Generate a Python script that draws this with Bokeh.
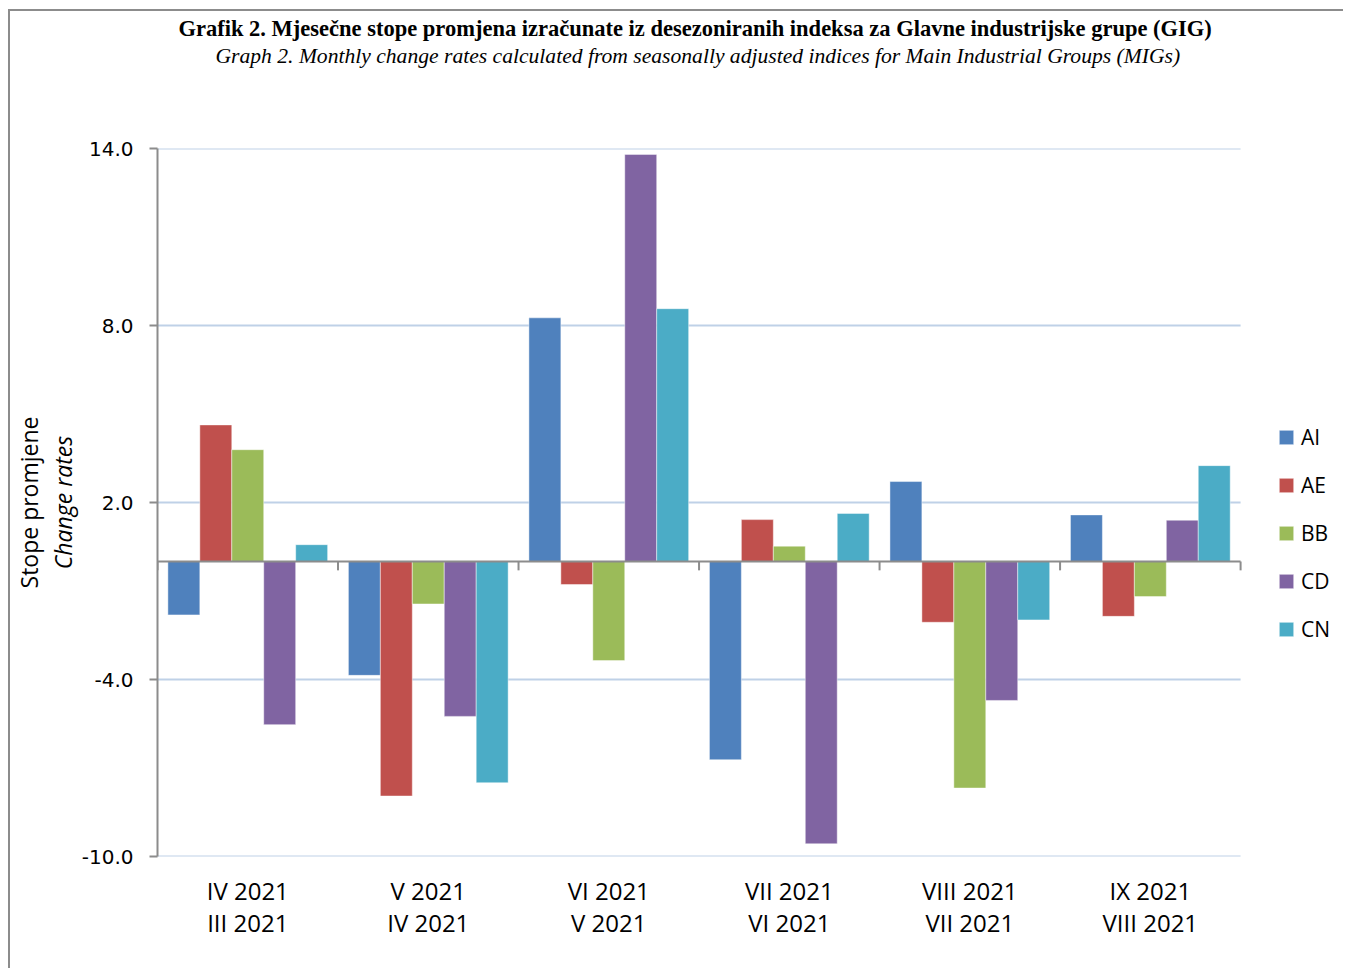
from bokeh.plotting import figure
from bokeh.models import (Range1d, FixedTicker, Title, Legend, LegendItem,
                          ColumnDataSource, PrintfTickFormatter)
from bokeh.embed import file_html
from bokeh.resources import INLINE

# ---- data ----
categories = ["IV 2021\nIII 2021", "V 2021\nIV 2021", "VI 2021\nV 2021",
              "VII 2021\nVI 2021", "VIII 2021\nVII 2021", "IX 2021\nVIII 2021"]
series_names = ["AI", "AE", "BB", "CD", "CN"]
AI = [-1.81, -3.86, 8.26, -6.72, 2.71, 1.58]
AE = [4.63, -7.95, -0.78, 1.42, -2.06, -1.86]
BB = [3.79, -1.44, -3.36, 0.52, -7.68, -1.19]
CD = [-5.53, -5.25, 13.80, -9.57, -4.71, 1.40]
CN = [0.57, -7.50, 8.57, 1.63, -1.98, 3.25]
y_ticks = [-10, -4, 2, 8, 14]
colors = ["#4F81BD", "#C0504D", "#9BBB59", "#8064A2", "#4BACC6"]

title_hr = "Grafik 2. Mjesečne stope promjena izračunate iz desezoniranih indeksa za Glavne industrijske grupe (GIG)"
title_en = "Graph 2. Monthly change rates calculated from seasonally adjusted indices for Main Industrial Groups (MIGs)"
ylab_hr = "Stope promjene"
ylab_en = "Change rates"

values = [AI, AE, BB, CD, CN]
n = len(categories)
bw = 0.177

# layout (pixels)
W, H = 1335, 959
left, top, bottom = 146, 137, 114
cat_px = 1084 / n                      # width of one category in pixels
x_end = -0.5 + (W - left) / cat_px     # frame extends under the legend area

p = figure(width=W, height=H, x_range=Range1d(-0.5, x_end), y_range=Range1d(-10, 14),
           output_backend="svg", toolbar_location=None,
           min_border_left=left, min_border_right=0, min_border_top=top, min_border_bottom=bottom)
p.styles = {"margin-left": "8px", "margin-top": "9px",
            "border-left": "2px solid #8C8C8C", "border-top": "2px solid #8C8C8C"}
p.outline_line_color = None
p.background_fill_color = "white"
p.border_fill_color = "white"
p.title.visible = False
p.xgrid.visible = False
p.ygrid.visible = False

# gridlines across the category area only
x_lo, x_hi = -0.5, n - 0.5
p.segment(x0=[x_lo] * len(y_ticks), x1=[x_hi] * len(y_ticks), y0=y_ticks, y1=y_ticks,
          line_color="#BFD1E7", line_width=2)

# y axis
p.yaxis.ticker = FixedTicker(ticks=y_ticks)
p.yaxis.formatter = PrintfTickFormatter(format="%.1f")
p.yaxis.axis_line_color = "#8C8C8C"
p.yaxis.axis_line_width = 2
p.yaxis.major_tick_line_color = "#8C8C8C"
p.yaxis.major_tick_line_width = 2
p.yaxis.major_tick_in = 0
p.yaxis.major_tick_out = 8
p.yaxis.minor_tick_line_color = None
p.yaxis.major_label_standoff = 16
p.yaxis.major_label_text_font = "DejaVu Sans"
p.yaxis.major_label_text_font_size = "20px"
p.yaxis.major_label_text_color = "#000000"

# x axis
p.xaxis.ticker = FixedTicker(ticks=list(range(n)))
p.xaxis.major_label_overrides = {i: categories[i] for i in range(n)}
p.xaxis.axis_line_color = None
p.xaxis.major_tick_line_color = None
p.xaxis.minor_tick_line_color = None
p.xaxis.major_label_standoff = 11
p.xaxis.major_label_text_font = "Open Sans"
p.xaxis.major_label_text_font_size = "24px"
p.xaxis.major_label_text_color = "#000000"
p.xaxis.major_label_text_line_height = 0.98

# bars
items = []
for j, (name, vals, c) in enumerate(zip(series_names, values, colors)):
    src = ColumnDataSource(dict(x=[i + (j - 2) * bw for i in range(n)], top=vals))
    r = p.vbar(x="x", top="top", bottom=0, width=bw, source=src,
               fill_color=c, line_color="white", line_alpha=0.45, line_width=1)
    items.append(LegendItem(label=name, renderers=[r]))

# zero line and category ticks
bounds = [i - 0.5 for i in range(n + 1)]
p.segment(x0=[x_lo], x1=[x_hi], y0=[0], y1=[0], line_color="#8C8C8C", line_width=2)
p.segment(x0=bounds, y0=[0] * len(bounds), x1=bounds, y1=[-0.3] * len(bounds),
          line_color="#8C8C8C", line_width=2)

legend = Legend(items=items, location=(1120, 213), orientation="vertical",
                glyph_width=18, glyph_height=18, label_standoff=6,
                label_text_font="Open Sans", label_text_font_size="21px",
                label_text_color="#000000", label_height=24, spacing=20,
                padding=0, margin=0, border_line_color=None,
                background_fill_alpha=0)
p.add_layout(legend)

# titles
p.add_layout(Title(text=" ", text_font_size="1px", standoff=78), "above")   # spacer
p.add_layout(Title(text=title_en, align="left", text_font="Liberation Serif",
                   text_font_style="italic", text_font_size="21.6px", standoff=0,
                   offset=58, text_color="#000000"), "above")
p.add_layout(Title(text=title_hr, align="left", text_font="Liberation Serif",
                   text_font_style="bold", text_font_size="22.5px", standoff=2,
                   offset=21, text_color="#000000"), "above")
p.add_layout(Title(text=ylab_en, align="center", text_font="Open Sans",
                   text_font_style="italic", text_font_size="23px", standoff=0,
                   text_color="#000000"), "left")
p.add_layout(Title(text=ylab_hr, align="center", text_font="Open Sans",
                   text_font_style="normal", text_font_size="23px", standoff=0,
                   text_color="#000000"), "left")

open("out.html", "w").write(file_html(p, INLINE))
